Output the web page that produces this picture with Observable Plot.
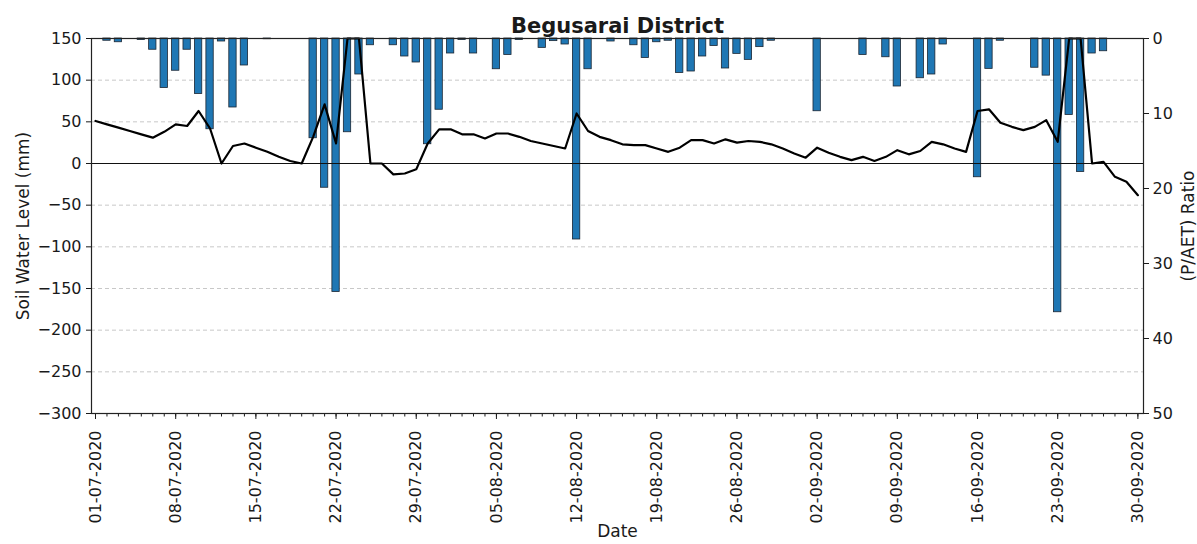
<!DOCTYPE html>
<html><head><meta charset="utf-8">
<script src="https://cdn.jsdelivr.net/npm/d3@7"></script>
<script src="https://cdn.jsdelivr.net/npm/@observablehq/plot@0.6"></script>
<style>body{margin:0;background:#fff;} svg{display:block}</style>
</head><body><div id="chart"></div>
<script>
// ---- data ----
const startDate = "01-07-2020";
const endDate = "30-09-2020";
// Soil water level (mm), one value per day, 01-07-2020 .. 30-09-2020
const soilWater = [51,47,43,39,35,31,38,47,45,63,
  42,0,21,24,19,14,8,3,0,32,
  71,24,150,150,0,0,-13,-12,-7,24,
  41,41,35,35,30,36,36,32,27,24,
  21,18,60,39,32,28,23,22,22,18,
  14,19,28,28,24,29,25,27,26,23,
  18,12,7,19,13,8,4,8,3,8,
  16,11,15,26,23,18,14,63,65,49,
  44,40,44,52,26,150,150,0,2,-16,
  -22,-38];
// (P/AET) ratio, one value per day
const paetRatio = [0,0.3,0.5,0,0.2,1.5,6.6,4.3,1.5,7.4,
  12.1,0.4,9.2,3.6,0,0.1,0,0,0,13.3,
  19.9,33.8,12.5,4.8,0.9,0,0.9,2.4,3.2,14.1,
  9.5,2.0,0.2,2.0,0,4.1,2.2,0.2,0,1.25,
  0.35,0.8,26.8,4.1,0,0.4,0,0.9,2.6,0.5,
  0.3,4.6,4.4,2.4,1.0,4.0,2.05,2.85,1.15,0.3,
  0,0,0,9.7,0,0,0,2.2,0,2.5,
  6.4,0,5.3,4.8,0.8,0,0,18.5,4.05,0.3,
  0,0,3.9,4.95,36.5,10.2,17.8,2.0,1.7,0,
  0,0];
const majorTickLabels = ["01-07-2020","08-07-2020","15-07-2020","22-07-2020","29-07-2020",
  "05-08-2020","12-08-2020","19-08-2020","26-08-2020","02-09-2020","09-09-2020",
  "16-09-2020","23-09-2020","30-09-2020"];
const leftTicks = [-300,-250,-200,-150,-100,-50,0,50,100,150];
const gridTicks = [-250,-200,-150,-100,-50,50,100];
const rightTicks = [0,10,20,30,40,50];
const yDomain = [-300, 150];
const ratioDomain = [0, 50];

// ---- build ----
const parse = d3.utcParse("%d-%m-%Y");
const t0 = parse(startDate), t1 = parse(endDate);
const days = d3.utcDay.range(t0, d3.utcDay.offset(t1, 1));
const data = days.map((date, i) => ({date, soil: soilWater[i], ratio: paetRatio[i]}));
const DAY = 864e5;
const ratioToY = d3.scaleLinear().domain(ratioDomain).range([yDomain[1], yDomain[0]]);
const fmt = d3.format("d");

const plot = Plot.plot({
  width: 1197, height: 544,
  marginTop: 38, marginBottom: 131, marginLeft: 91, marginRight: 54,
  style: {fontFamily: "'DejaVu Sans', sans-serif", fontSize: "16px", color: "#1a1a1a", background: "#fff"},
  x: {type: "utc", domain: [new Date(+t0 - 0.35 * DAY), new Date(+t1 + 0.49 * DAY)]},
  y: {domain: yDomain},
  marks: [
    Plot.gridY(gridTicks, {stroke: "#c8c8c8", strokeOpacity: 1, strokeDasharray: "4,3"}),
    Plot.rectY(data.filter(d => d.ratio > 0), {
      x1: d => new Date(+d.date - 0.32 * DAY),
      x2: d => new Date(+d.date + 0.32 * DAY),
      y1: () => ratioToY(0),
      y2: d => ratioToY(d.ratio),
      fill: "#1f77b4", stroke: "#1b2633", strokeWidth: 0.8
    }),
    Plot.ruleY([0], {stroke: "#111", strokeWidth: 1.2}),
    Plot.lineY(data, {x: "date", y: "soil", stroke: "#000", strokeWidth: 2.2}),
    Plot.axisY(leftTicks, {tickSize: 5, tickPadding: 5, tickFormat: fmt, label: null, fontSize: 16}),
    Plot.axisY(rightTicks.map(r => ratioToY(r)), {anchor: "right", tickSize: 5, tickPadding: 4,
      tickFormat: v => fmt(Math.round(ratioToY.invert(v))), label: null, fontSize: 16}),
    Plot.axisX(days, {tickSize: 3.5, tickFormat: () => "", label: null}),
    Plot.axisX(majorTickLabels.map(parse), {tickSize: 6, tickPadding: 11, tickRotate: -90,
      tickFormat: d3.utcFormat("%d-%m-%Y"), label: null, fontSize: 16}),
    Plot.frame({stroke: "#222", strokeWidth: 1.2}),
    Plot.text(["Begusarai District"], {frameAnchor: "top", dy: -20, fontSize: 21, fontWeight: "bold", textAnchor: "middle"}),
    Plot.text(["Soil Water Level (mm)"], {frameAnchor: "left", dx: -68, rotate: -90, fontSize: 17, textAnchor: "middle"}),
    Plot.text(["(P/AET) Ratio"], {frameAnchor: "right", dx: 45, rotate: -90, fontSize: 17, textAnchor: "middle"}),
    Plot.text(["Date"], {frameAnchor: "bottom", dy: 123, fontSize: 17, textAnchor: "middle"})
  ]
});
document.getElementById("chart").appendChild(plot);
</script>
</body></html>
